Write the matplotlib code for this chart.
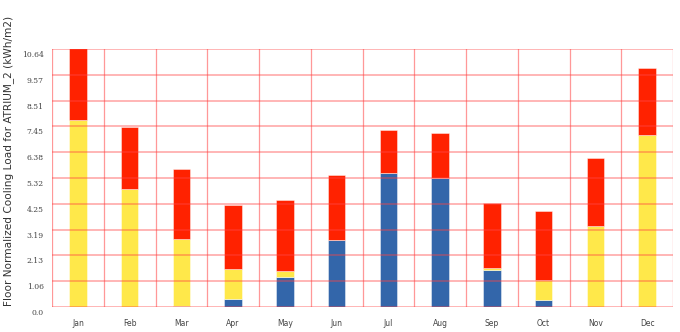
import numpy as np
import matplotlib.pyplot as plt
import matplotlib.transforms as mtransforms

### Monthly floor normalized cooling load components (kWh/m2), stacked
months = ['Jan', 'Feb', 'Mar', 'Apr', 'May', 'Jun',
          'Jul', 'Aug', 'Sep', 'Oct', 'Nov', 'Dec']
blue = [0.0, 0.0, 0.05, 0.34, 1.25, 2.76, 5.51, 5.31, 1.54, 0.28, 0.0, 0.0]
yellow = [7.72, 4.88, 2.74, 1.21, 0.25, 0.0, 0.0, 0.0, 0.07, 0.85, 3.34, 7.09]
red = [3.0, 2.56, 2.91, 2.66, 2.90, 2.67, 1.80, 1.87, 2.67, 2.84, 2.80, 2.77]

yticks = [0.0, 1.06, 2.13, 3.19, 4.25, 5.32, 6.38, 7.45, 8.51, 9.57, 10.64]
ytop = 10.64

fig = plt.figure(figsize=(6.8, 3.32), dpi=100)
ax = fig.add_axes([52/680, 25/332, 621/680, 258/332])

x = np.arange(len(months))
b = np.array(blue)
yl = np.array(yellow)
r = np.array(red)

w = 0.34
ec = (1, 1, 1, 0.5)
ax.bar(x, b, w, color='#3366aa', edgecolor=ec, linewidth=0.6, zorder=2)
ax.bar(x, yl, w, bottom=b, color='#ffe84a', edgecolor=ec, linewidth=0.6, zorder=2)
ax.bar(x, r, w, bottom=b + yl, color='#ff2200', edgecolor=ec, linewidth=0.6, zorder=2)

## Grid: horizontal at y ticks, vertical between months
for yv in yticks:
    ax.axhline(yv, color='#ff4444', alpha=0.5, lw=1.1, zorder=3)
for xv in np.arange(-0.5, len(months), 1.0):
    ax.axvline(xv, color='#ff4444', alpha=0.55, lw=0.9, zorder=3)

ax.set_xlim(-0.5, len(months) - 0.5)
ax.set_ylim(0, ytop)
for s in ax.spines.values():
    s.set_visible(False)

ax.set_xticks(x)
ax.set_xticklabels(months, fontsize=5.5, color='#444444', family='DejaVu Sans')
ax.set_yticks(yticks)
ax.set_yticklabels(['%.2f' % v if v > 0 else '0.0' for v in yticks],
                   fontsize=5.5, color='#444444', family='DejaVu Serif')
ax.tick_params(axis='both', length=0)
ax.tick_params(axis='x', pad=9)
ax.tick_params(axis='y', pad=6)
off = mtransforms.ScaledTranslation(0, -5/100, fig.dpi_scale_trans)
for lab in ax.get_yticklabels():
    lab.set_transform(lab.get_transform() + off)

ax.set_ylabel('Floor Normalized Cooling Load for ATRIUM_2 (kWh/m2)',
              fontsize=7.6, color='#333333')
ax.yaxis.set_label_coords(-38/621, 0.565)

plt.savefig('out.png', dpi=100)
